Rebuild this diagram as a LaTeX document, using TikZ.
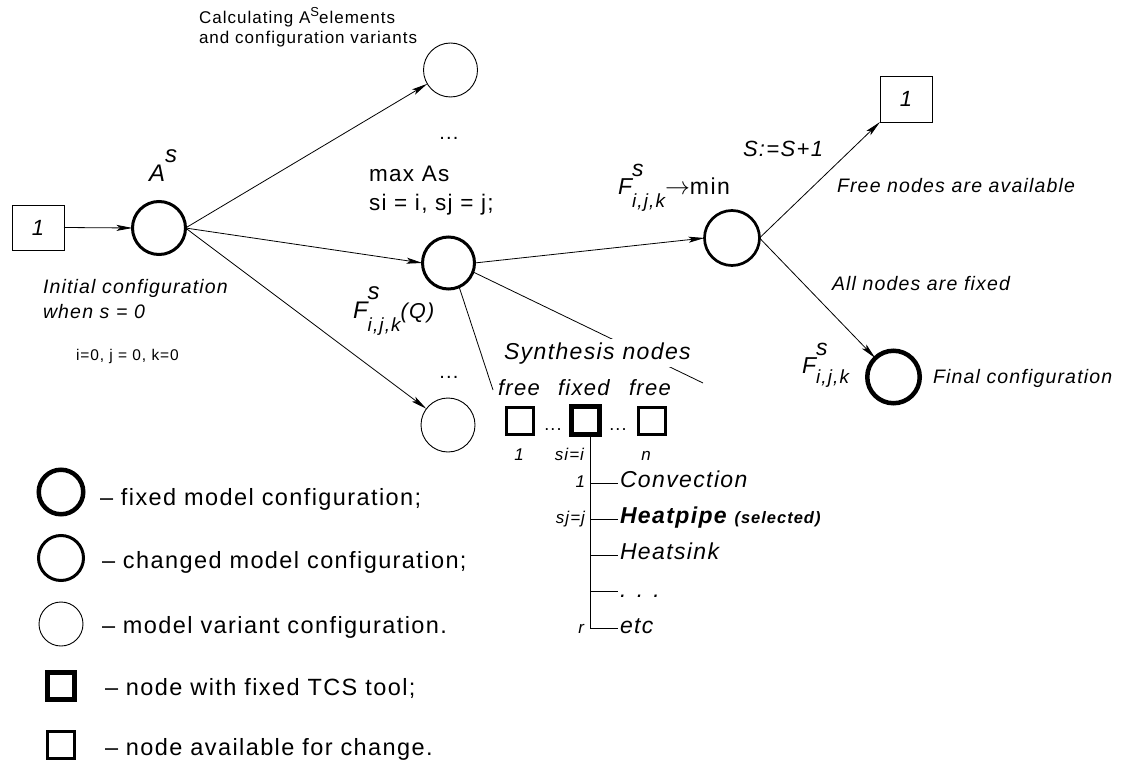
\documentclass[tikz,border=0pt]{standalone}
\usepackage{fontspec}
\setmainfont{Liberation Sans}[LetterSpace=6]
\usetikzlibrary{arrows.meta}
\newcommand{\fsz}[1]{\fontsize{#1}{#1}\selectfont}
\newcommand{\Fijk}[3]{F\rlap{\raisebox{#1}{s}}\raisebox{-#2}{\fsz{19}i,j,k}#3}
\begin{document}
\begin{tikzpicture}[x=1pt,y=-1pt,
  every node/.style={inner sep=0pt,outer sep=0pt},
  conn/.style={line width=0.8pt},
  arr/.style={conn,-{Stealth[length=16pt,width=6pt,inset=3.5pt]}},
  fixedc/.style={circle,draw,line width=4.5pt},
  changedc/.style={circle,draw,line width=3pt},
  variantc/.style={circle,draw,line width=0.9pt},
  fixsq/.style={rectangle,draw,line width=5pt},
  freesq/.style={rectangle,draw,line width=3.2pt},
  numbox/.style={rectangle,draw,line width=0.9pt,font=\fsz{22}\itshape},
  lbl/.style={anchor=base west},
  legtxt/.style={anchor=base west,font=\fsz{23.5}},
  itl/.style={anchor=base west,font=\fsz{22}\itshape},
]
\useasboundingbox (0,0) rectangle (1123,767);

% ---------- main nodes ----------
\node[numbox,minimum width=52pt,minimum height=45pt] (start) at (38,227.5) {1};
\node[changedc,minimum size=53pt] (A) at (159,228) {};
\node[variantc,minimum size=54pt] (V1) at (450.5,70) {};
\node[changedc,minimum size=52pt] (M) at (448.5,263) {};
\node[variantc,minimum size=54pt] (V2) at (448,425) {};
\node[changedc,line width=2.7pt,minimum size=55pt] (Min) at (732,238) {};
\node[numbox,minimum width=52pt,minimum height=46pt] (R1) at (906,99) {1};
\node[fixedc,minimum size=52.5pt] (Fin) at (893.5,377) {};

% ---------- connectors ----------
\draw[arr] (start.east) -- (A.west);
\draw[arr] (A.east) -- (V1);
\draw[arr] (A.east) -- (M.west);
\draw[arr] (A.east) -- (V2);
\draw[arr] (M.east) -- (Min.west);
\draw[arr] (Min.east) -- (R1.south west);
\draw[arr] (Min.east) -- (Fin);

\coordinate (s1) at (493,390);
\coordinate (s2) at (703,383);
\draw[conn] (M.-66) -- (s1);
\draw[conn] (M.-20) -- (s2);

% ---------- labels of main part ----------
\node[lbl,font=\fsz{17}] (calc1) at (199,24) {Calculating A\raisebox{7pt}{\fsz{13}S}elements};
\node[lbl,font=\fsz{17}] (calc2) at (199,44) {and configuration variants};
\node[anchor=base,font=\fsz{20}] (dots1) at (449,140) {...};
\node[anchor=base,font=\fsz{20}] (dots2) at (449,378) {...};

\node[lbl,font=\fsz{24}\itshape] (Alab) at (149,182) {A\raisebox{19pt}{s}};

\node[lbl,font=\fsz{22.5}] (max1) at (369,182) {max As};
\node[lbl,font=\fsz{22.5}] (max2) at (369,211) {si = i, sj = j;};

\node[lbl,font=\fsz{24}\itshape] (FQ) at (353,318) {\Fijk{19pt}{13pt}{\fsz{21.5}(Q)}};

\node[lbl,font=\fsz{19.5}\itshape] (init1) at (43,293) {Initial configuration};
\node[lbl,font=\fsz{19.5}\itshape] (init2) at (43,318) {when s = 0};
\node[lbl,font=\fsz{15.5}] (ijk0) at (76,360) {i=0, j = 0, k=0};

\node[lbl,font=\fsz{23}\itshape] (Fmin) at (618,195) {\Fijk{18pt}{13pt}{$\rightarrow$\upshape min}};
\node[lbl,font=\fsz{22}\itshape] (Sinc) at (743,157) {S:=S+1};
\node[lbl,font=\fsz{19.5}\itshape] (freeav) at (837,193) {Free nodes are available};
\node[lbl,font=\fsz{19.5}\itshape] (allfix) at (832,290) {All nodes are fixed};
\node[lbl,font=\fsz{23}\itshape] (Ffin) at (802,373) {\Fijk{18pt}{10pt}{}};
\node[lbl,font=\fsz{19.5}\itshape] (finconf) at (933,383) {Final configuration};

% ---------- synthesis nodes ----------
\node[lbl,font=\fsz{23}\itshape,fill=white,inner sep=3pt] (synth) at (501,359) {Synthesis nodes};
\node[itl] (tfree1) at (498,395) {free};
\node[itl] (tfixed) at (558,395) {fixed};
\node[itl] (tfree2) at (629,395) {free};

\node[freesq,line width=3pt,minimum size=27pt] (q1) at (520,420.5) {};
\node[fixsq,minimum size=28pt] (q2) at (585.5,420.5) {};
\node[freesq,line width=3pt,minimum size=27pt] (q3) at (652,420.5) {};
\node[anchor=base,font=\fsz{18}] (qd1) at (553,430) {...};
\node[anchor=base,font=\fsz{18}] (qd2) at (618,430) {...};

\node[anchor=base,font=\fsz{17}\itshape] (n1) at (519,460) {1};
\node[anchor=base east,font=\fsz{17}\itshape] (nsi) at (584,460) {si=i};
\node[anchor=base,font=\fsz{17}\itshape] (nn) at (646,460) {n};

\coordinate (b1) at (590,483);
\coordinate (b2) at (590,519);
\coordinate (b3) at (590,555);
\coordinate (b4) at (590,591);
\coordinate (b5) at (590,628);
\draw[line width=1pt] (q2.south -| b5) -- (b5);
\foreach \b in {b1,b2,b3,b4,b5} \draw[line width=1pt] (\b) -- ++(28,0);

\node[lbl,font=\fsz{23}\itshape] (o1) at (620,487) {Convection};
\node[lbl,font=\fsz{23}\itshape\bfseries] (o2) at (620,523) {Heatpipe {\fsz{16.5}(selected)}};
\node[lbl,font=\fsz{23}\itshape] (o3) at (620,559) {Heatsink};
\node[lbl,font=\fsz{23}\itshape] (o4) at (620,597) {. . .};
\node[lbl,font=\fsz{23}\itshape] (o5) at (620,633) {etc};

\node[anchor=base east,font=\fsz{17}\itshape] (l1) at (585,487) {1};
\node[anchor=base east,font=\fsz{17}\itshape] (l2) at (585,523) {sj=j};
\node[anchor=base east,font=\fsz{17}\itshape] (l5) at (584,633) {r};

% ---------- legend ----------
\node[fixedc,minimum size=44.5pt] (L1) at (61,492) {};
\node[changedc,minimum size=45pt] (L2) at (61,558) {};
\node[variantc,minimum size=44pt] (L3) at (61,624) {};
\node[fixsq,minimum size=27pt] (L4) at (61,686) {};
\node[freesq,minimum size=26.5pt] (L5) at (61,745) {};

\node[legtxt] (T1) at (100,505) {-- fixed model configuration;};
\node[legtxt] (T2) at (102,568) {-- changed model configuration;};
\node[legtxt] (T3) at (102,633) {-- model variant configuration.};
\node[legtxt] (T4) at (105,695) {-- node with fixed TCS tool;};
\node[legtxt] (T5) at (105,755) {-- node available for change.};
\end{tikzpicture}
\end{document}
